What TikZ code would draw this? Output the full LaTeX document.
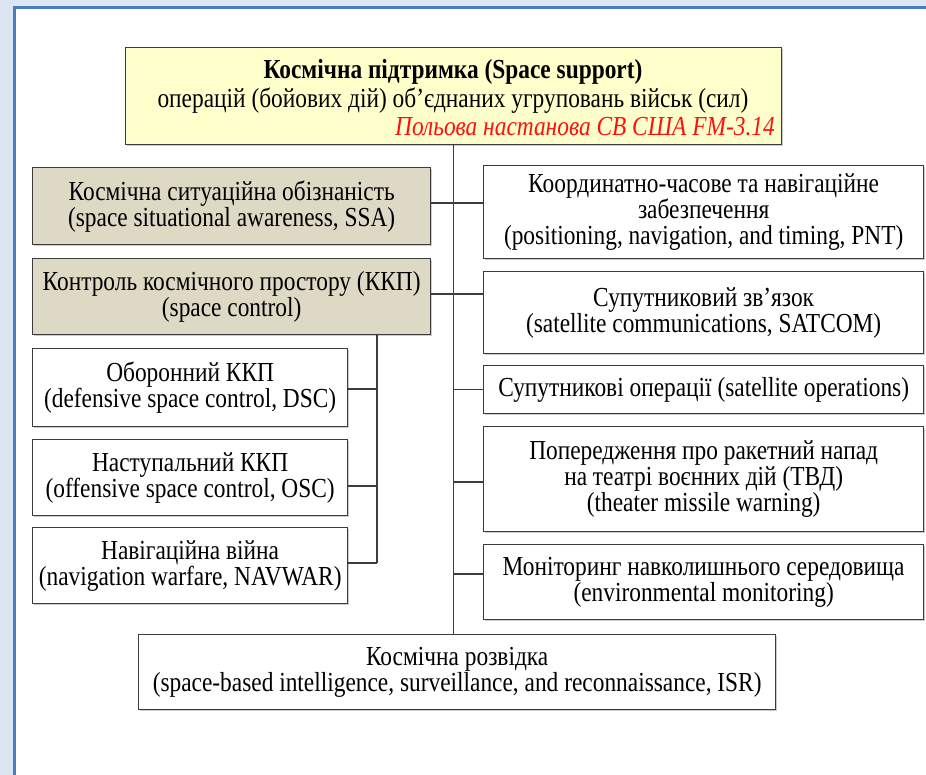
\documentclass[tikz,border=0pt]{standalone}
\usepackage{fontspec}
\setmainfont{LiberationSerif}[Extension=.ttf, UprightFont=*-Regular, BoldFont=*-Bold, ItalicFont=*-Italic, BoldItalicFont=*-BoldItalic, FakeStretch=0.85]
\usetikzlibrary{shadows}
\definecolor{framebg}{HTML}{DCE6F2}
\definecolor{frameline}{HTML}{4A7EBB}
\definecolor{topfill}{HTML}{FFFFCC}
\definecolor{tanfill}{HTML}{DDD9C4}
\definecolor{edgecol}{HTML}{3C3C3C}
\definecolor{srcred}{HTML}{FF1010}
\begin{document}
\begin{tikzpicture}[x=1pt,y=-1pt,
  boxfont/.style={font=\fontsize{27.5}{26}\selectfont},
  box/.style={draw=edgecol, line width=1.3pt, fill=white, align=center, inner sep=0pt,
    anchor=north west, boxfont,
    drop shadow={shadow xshift=1.2pt, shadow yshift=-1.2pt, fill=black!40}},
  tanbox/.style={box, fill=tanfill},
  txt/.style={inner sep=0pt, boxfont},
  link/.style={draw=edgecol, line width=1.2pt}]
\useasboundingbox (0,0) rectangle (926,775);
\fill[white] (0,0) rectangle (926,775);
% frame
\fill[framebg] (0,0) rectangle (926,7);
\fill[framebg] (0,0) rectangle (13,775);
\draw[frameline, line width=3pt] (14.5,775) -- (14.5,7.5) -- (926,7.5);

% top box
\node[box, fill=topfill, minimum width=656pt, minimum height=97pt] (top) at (125,47) {};
\node[txt, font=\fontsize{27.5}{26}\selectfont\bfseries] (t1) at (453,72) {Космічна підтримка (Space support)};
\node[txt] (t2) at (453,101) {операцій (бойових дій) об’єднаних угруповань військ (сил)};
\node[txt, anchor=east, text=srcred, font=\fontsize{27.5}{26}\selectfont\itshape] (t3) at (775,127) {Польова настанова СВ США FM-3.14};

% left column
\node[tanbox, minimum width=398pt, minimum height=77pt] (ssa) at (32,167)
  {Космічна ситуаційна обізнаність\\ (space situational awareness, SSA)};
\node[tanbox, minimum width=398pt, minimum height=76pt] (sc) at (32,258)
  {Контроль космічного простору (ККП)\\ (space control)};
\node[box, minimum width=315pt, minimum height=78pt] (dsc) at (32,348)
  {Оборонний ККП\\ (defensive space control, DSC)};
\node[box, minimum width=315pt, minimum height=76pt] (osc) at (32,439)
  {Наступальний ККП\\ (offensive space control, OSC)};
\node[box, minimum width=315pt, minimum height=76pt] (nav) at (32,527)
  {Навігаційна війна\\ (navigation warfare, NAVWAR)};

% right column
\node[box, minimum width=440pt, minimum height=93pt] (pnt) at (483,165)
  {Координатно-часове та навігаційне\\ забезпечення\\ (positioning, navigation, and timing, PNT)};
\node[box, minimum width=440pt, minimum height=82pt] (satcom) at (483,271)
  {Супутниковий зв’язок\\ (satellite communications, SATCOM)};
\node[box, minimum width=440pt, minimum height=48pt] (satops) at (483,365)
  {Супутникові операції (satellite operations)};
\node[box, minimum width=440pt, minimum height=105pt] (tmw) at (483,426)
  {Попередження про ракетний напад\\ на театрі воєнних дій (ТВД)\\ (theater missile warning)};
\node[box, minimum width=440pt, minimum height=75pt] (env) at (483,544)
  {Моніторинг навколишнього середовища\\ (environmental monitoring)};

% bottom
\node[box, minimum width=637pt, minimum height=75pt] (isr) at (138,634)
  {Космічна розвідка\\ (space-based intelligence, surveillance, and reconnaissance, ISR)};

% junction coordinates
\coordinate (jssa) at (453,203);
\coordinate (jsc) at (453,294);
\coordinate (jtmw) at (453,482);
\coordinate (jenv) at (453,574);
\coordinate (sub) at (377,0);
\coordinate (jdsc) at (377,389);
\coordinate (josc) at (377,486);
\coordinate (jnav) at (377,563);

% connectors
\draw[link] (top.south) -- (top.south |- isr.north);
\draw[link] (ssa.east |- jssa) -- (pnt.west |- jssa);
\draw[link] (sc.east |- jsc) -- (satcom.west |- jsc);
\draw[link] (top.south |- satops.west) -- (satops.west);
\draw[link] (jtmw) -- (tmw.west |- jtmw);
\draw[link] (jenv) -- (env.west |- jenv);
\draw[link] (sc.south -| sub) -- (jnav);
\draw[link] (jdsc) -- (dsc.east |- jdsc);
\draw[link] (josc) -- (osc.east |- josc);
\draw[link] (jnav) -- (nav.east |- jnav);
\end{tikzpicture}
\end{document}
